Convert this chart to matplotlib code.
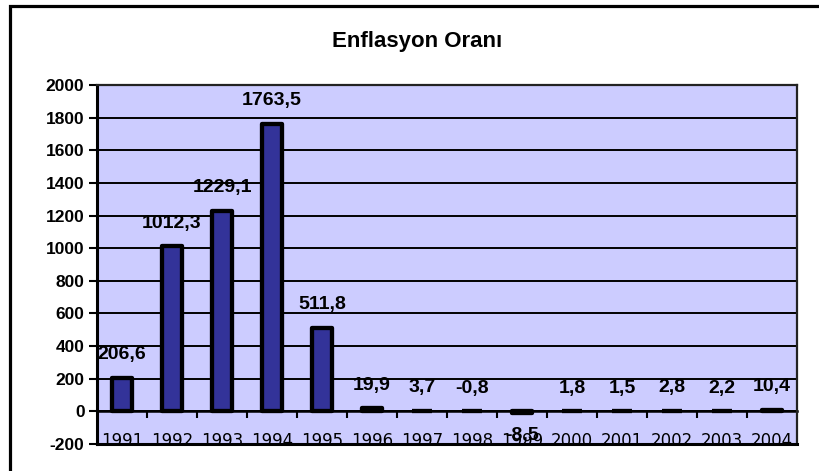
import matplotlib
matplotlib.use("Agg")
import matplotlib.pyplot as plt
from matplotlib.patches import Rectangle
from matplotlib.ticker import FixedLocator, MultipleLocator

years = ["1991", "1992", "1993", "1994", "1995", "1996", "1997",
         "1998", "1999", "2000", "2001", "2002", "2003", "2004"]
values = [206.6, 1012.3, 1229.1, 1763.5, 511.8, 19.9, 3.7,
          -0.8, -8.5, 1.8, 1.5, 2.8, 2.2, 10.4]
labels = ["206,6", "1012,3", "1229,1", "1763,5", "511,8", "19,9", "3,7",
          "-0,8", "-8,5", "1,8", "1,5", "2,8", "2,2", "10,4"]
title = "Enflasyon Oranı"

W, H = 819, 471
fig = plt.figure(figsize=(W / 100, H / 100), dpi=100)
fig.patch.set_facecolor("white")

L, R, T, B = 97, 797, 85, 444
ax = fig.add_axes([L / W, (H - B) / H, (R - L) / W, (B - T) / H])
ax.set_facecolor("#CCCCFF")

x = list(range(len(years)))
ax.bar(x, values, width=0.4, color="#333399", edgecolor="black",
       linewidth=3.1, zorder=3, joinstyle="round")

ax.set_xlim(-0.5, len(years) - 0.5)
ax.set_ylim(-200, 2000)
ax.yaxis.set_major_locator(MultipleLocator(200))
ax.grid(axis="y", color="black", linewidth=1.4, zorder=1)
ax.set_axisbelow(True)

# spines
for s in ["top", "right"]:
    ax.spines[s].set_color("#222222")
    ax.spines[s].set_linewidth(1.6)
ax.spines["left"].set_linewidth(2.2)
ax.spines["bottom"].set_position(("data", 0))
ax.spines["bottom"].set_linewidth(1.8)
ax.spines["bottom"].set_zorder(2)
ax.axhline(-200, color="black", linewidth=2.2, clip_on=False, zorder=4)

ylab_font = dict(family="Liberation Sans", weight="bold", size=12.5)
ax.set_yticks(range(-200, 2001, 200))
ax.set_yticklabels([str(v) for v in range(-200, 2001, 200)], **ylab_font)
ax.tick_params(axis="y", length=6, width=1.5, pad=3, direction="out")

ax.set_xticks(x)
ax.set_xticklabels(years, family="DejaVu Sans", size=12)
ax.tick_params(axis="x", which="major", length=0, pad=14.5)
ax.xaxis.set_minor_locator(FixedLocator([i - 0.5 for i in range(1, len(years))]))
ax.tick_params(axis="x", which="minor", length=5, width=1.5, direction="out")

for xi, v, lab in zip(x, values, labels):
    down = v < -1
    ax.annotate(lab, (xi, v), xytext=(0, -16.5 if down else 16.5),
                textcoords="offset points", ha="center", va="center",
                family="Liberation Sans", weight="bold", size=14,
                zorder=5, annotation_clip=False)

fig.text(417 / W, (H - 42) / H, title, ha="center", va="center",
         family="Liberation Sans", weight="bold", size=16)

fig.patches.append(Rectangle((10 / W, -0.1), 1.2, (H - 6) / H + 0.1,
                             transform=fig.transFigure, fill=False,
                             edgecolor="black", linewidth=2.3))

fig.savefig("out.png", dpi=100)
